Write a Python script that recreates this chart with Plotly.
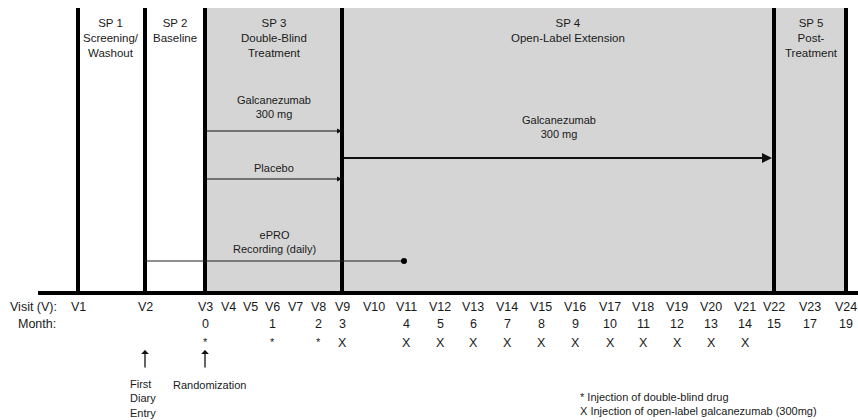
import plotly.graph_objects as go

# ---- data ----
visits = ["V1", "V2", "V3", "V4", "V5", "V6", "V7", "V8", "V9", "V10", "V11", "V12",
          "V13", "V14", "V15", "V16", "V17", "V18", "V19", "V20", "V21", "V22", "V23", "V24"]
month_visits = ["V3", "V6", "V8", "V9", "V11", "V12", "V13", "V14", "V15", "V16", "V17",
                "V18", "V19", "V20", "V21", "V22", "V23", "V24"]
month_labels = ["0", "1", "2", "3", "4", "5", "6", "7", "8", "9", "10",
                "11", "12", "13", "14", "15", "17", "19"]
double_blind_visits = ["V3", "V6", "V8"]
open_label_visits = ["V9", "V11", "V12", "V13", "V14", "V15", "V16", "V17", "V18", "V19", "V20", "V21"]
period_bounds = ["V1", "V2", "V3", "V9", "V22", "V24"]
period_labels = ["SP 1<br>Screening/<br>Washout", "SP 2<br>Baseline",
                 "SP 3<br>Double-Blind<br>Treatment", "SP 4<br>Open-Label Extension",
                 "SP 5<br>Post-<br>Treatment"]

# ---- layout positions (pixel-like axis units) ----
visit_x = [78, 145, 205, 228, 250, 272, 295, 318, 342, 374, 406, 440,
           473, 507, 541, 575, 610, 643, 677, 711, 745, 774, 810, 846]
X = dict(zip(visits, visit_x))
TOP, BASE = 8, 293
TXT = "#1a1a1a"
FONT = "Liberation Sans, Arial, sans-serif"

fig = go.Figure()

# grey treatment area
fig.add_shape(type="rect", xref="x", yref="y", x0=X["V3"], x1=X["V24"], y0=TOP, y1=BASE,
              fillcolor="#d5d5d5", line_width=0, layer="below")

# vertical period boundaries
vx, vy = [], []
for v in period_bounds:
    vx += [X[v], X[v], None]
    vy += [TOP, BASE, None]
fig.add_trace(go.Scatter(x=vx, y=vy, mode="lines", line=dict(color="black", width=4),
                         hoverinfo="skip", showlegend=False))
# baseline
fig.add_trace(go.Scatter(x=[38, 858], y=[BASE, BASE], mode="lines",
                         line=dict(color="black", width=4), hoverinfo="skip", showlegend=False))

# ePRO line with dot
fig.add_trace(go.Scatter(x=[X["V2"], 404], y=[261, 261], mode="lines",
                         line=dict(color="#222", width=1.2), hoverinfo="skip", showlegend=False))
fig.add_trace(go.Scatter(x=[404], y=[261], mode="markers",
                         marker=dict(color="black", size=6), hoverinfo="skip", showlegend=False))

ann = []
def text(x, y, t, size=11, xanchor="center", yanchor="middle", align="center"):
    ann.append(dict(x=x, y=y, xref="x", yref="y", text=t, showarrow=False,
                    font=dict(size=size, color=TXT, family=FONT),
                    xanchor=xanchor, yanchor=yanchor, align=align))

def arrow(x0, y0, x1, y1, width=1, size=1.0, head=2):
    ann.append(dict(x=x1, y=y1, ax=x0, ay=y0, xref="x", yref="y", axref="x", ayref="y",
                    text="", showarrow=True, arrowhead=head, arrowsize=size,
                    arrowwidth=width, arrowcolor="#111", standoff=0))

# period labels
label_x = [111, 175, 274, 568, 811]
for lx, lab in zip(label_x, period_labels):
    text(lx, 15, lab, size=11.5, yanchor="top")

# treatment arms
text(274, 107, "Galcanezumab<br>300 mg")
arrow(X["V3"], 131, X["V9"], 131, width=1, size=1.0)
text(274, 168, "Placebo")
arrow(X["V3"], 179, X["V9"], 179, width=1, size=1.0)
text(559, 127, "Galcanezumab<br>300 mg")
arrow(X["V9"], 158, 772, 158, width=2, size=1.0)
text(274, 242, "ePRO<br>Recording (daily)")

# axis rows
text(59, 307, "Visit (V):", size=12.5, xanchor="right")
text(58, 324, "Month:", size=12.5, xanchor="right")
for v in visits:
    text(X[v], 307, v, size=12.5)
for v, m in zip(month_visits, month_labels):
    text(X[v], 324, m, size=12.5)
for v in double_blind_visits:
    text(X[v], 342, "*", size=11)
for v in open_label_visits:
    text(X[v], 343, "X", size=12.5)

# event arrows
arrow(X["V2"], 369, X["V2"], 350, width=1.3, size=1.0, head=1)
arrow(X["V3"], 369, X["V3"], 350, width=1.3, size=1.0, head=1)
text(128, 398, "First<br>Diary<br>Entry", size=11, xanchor="left", align="left")
text(171, 385, "Randomization", size=11, xanchor="left")

# footnotes
text(578, 404, "* Injection of double-blind drug<br>X Injection of open-label galcanezumab (300mg)",
     size=11, xanchor="left", align="left")

fig.update_layout(
    width=858, height=420, margin=dict(l=0, r=0, t=0, b=0),
    paper_bgcolor="white", plot_bgcolor="white",
    xaxis=dict(range=[0, 858], visible=False, fixedrange=True),
    yaxis=dict(range=[420, 0], visible=False, fixedrange=True),
    annotations=ann, showlegend=False,
)
fig.write_html("out.html", config={"displayModeBar": False},
               post_script="document.body.style.margin='0';document.body.style.overflow='hidden';")
